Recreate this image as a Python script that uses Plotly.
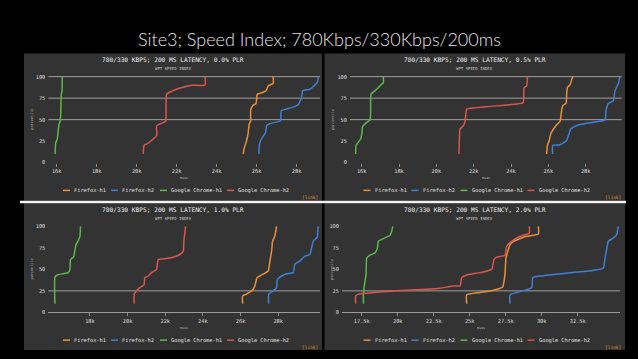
import plotly.graph_objects as go

W, H = 638, 359

series_names = ["Firefox-h1", "Firefox-h2", "Google Chrome-h1", "Google Chrome-h2"]
series_colors = ["#e8913a", "#3f7fd4", "#5cb84a", "#d9574f"]

slide_title = "Site3; Speed Index; 780Kbps/330Kbps/200ms"
panel_titles = [
    "780/330 KBPS; 200 MS LATENCY, 0.0% PLR",
    "780/330 KBPS; 200 MS LATENCY, 0.5% PLR",
    "780/330 KBPS; 200 MS LATENCY, 1.0% PLR",
    "780/330 KBPS; 200 MS LATENCY, 2.0% PLR",
]
panel_subtitle = "WPT SPEED INDEX"
x_title = "msec"
y_title = "percentile"
link_text = "[link]"

y_tickvals = [0, 25, 50, 75, 100]
y_ticktext = ["0", "25", "50", "75", "100"]

# ---- top-left: 0.0% PLR ----
tl_ff1_x = [25330, 25370, 25500, 25570, 25630, 25700, 25700, 25800, 25970, 26030, 26200, 26470, 26580, 26830, 26830]
tl_ff1_y = [10, 16, 25.8, 33.5, 45, 48.1, 60.4, 66.2, 68.8, 79.6, 80.8, 83.5, 89.2, 92.3, 100]
tl_ff2_x = [26120, 26130, 26200, 26450, 26500, 26630, 27080, 27200, 27230, 27500, 27920, 28080, 28250, 28300, 28670, 28920, 29050, 29080]
tl_ff2_y = [10, 20, 25.8, 35.4, 43, 45, 47.7, 48.8, 60.4, 62.3, 65.4, 67.3, 75.8, 83.5, 85.4, 90.4, 94.2, 100]
tl_gc1_x = [15920, 15950, 16030, 16070, 16120, 16170, 16200, 16230, 16270, 16280]
tl_gc1_y = [10, 22.7, 27.7, 36.5, 45, 48.1, 56.5, 79.6, 83.5, 100]
tl_gc2_x = [20330, 20370, 20580, 21000, 21000, 21250, 21450, 21500, 22000, 22750, 23420, 23420]
tl_gc2_y = [10, 20, 22.7, 31.5, 43, 45.8, 48.1, 79.6, 85.4, 90, 90, 100]

# ---- top-right: 0.5% PLR ----
tr_ff1_x = [25910, 25950, 26050, 26130, 26410, 26630, 26710, 26770, 26950, 26980, 27020, 27160, 27300]
tr_ff1_y = [10, 20, 25.8, 33.5, 43.1, 48.1, 60.4, 66.2, 68.8, 79.6, 87.3, 90.4, 100]
tr_ff2_x = [26230, 26230, 26630, 26980, 27200, 27520, 28050, 28770, 29040, 29090, 29210, 29480, 29570, 29750, 29840]
tr_ff2_y = [10, 20, 20.8, 25.8, 39.2, 43.1, 45.8, 48.1, 49.6, 60.4, 68.8, 71.9, 83.5, 91.9, 100]
tr_gc1_x = [15680, 15700, 15820, 15950, 16020, 16050, 16270, 16450, 16480, 16500, 16710, 17070, 17160, 17160]
tr_gc1_y = [10, 20, 23.8, 27.7, 35.4, 41.9, 46.9, 49.6, 60.4, 79.6, 83.5, 91.2, 93.1, 100]
tr_gc2_x = [21210, 21230, 21270, 21450, 21540, 21590, 21630, 22700, 24300, 24660, 24700, 24840, 24880]
tr_gc2_y = [10, 25.8, 39.2, 43.1, 48.1, 58.5, 62.3, 65, 68.1, 70, 87.3, 89.2, 100]

# ---- bottom-left: 1.0% PLR ----
bl_ff1_x = [26110, 26110, 26320, 26670, 26760, 26880, 27120, 27470, 27560, 27650, 27700, 27820, 27910]
bl_ff1_y = [10, 19.2, 21.2, 26.9, 30.8, 40.4, 43.5, 48.1, 59.6, 71.2, 82.7, 88.5, 100]
bl_ff2_x = [27490, 27500, 27730, 27910, 27960, 28180, 28440, 28800, 28880, 29150, 29420, 29680, 29770, 29860, 30070, 30120]
bl_ff2_y = [10, 21.2, 25, 28.8, 38.5, 42.3, 45, 46.2, 55.8, 59.6, 65.4, 67.3, 75, 82.7, 87.3, 100]
bl_gc1_x = [16140, 16140, 16270, 16580, 16850, 16940, 16970, 17120, 17150, 17260, 17380, 17470, 17500]
bl_gc1_y = [10, 40.4, 43.5, 45, 46.2, 50, 61.5, 64.2, 65.4, 78.8, 83.5, 88.5, 100]
bl_gc2_x = [20350, 20350, 20480, 20650, 20870, 20920, 21100, 21270, 21540, 21630, 22070, 22420, 22780, 22960, 22990, 23080]
bl_gc2_y = [10, 21.2, 25, 28.8, 31.9, 40.4, 42.3, 46.2, 50, 61.5, 62.7, 64.2, 67.3, 71.2, 82.7, 100]

# ---- bottom-right: 2.0% PLR ----
br_ff1_x = [24790, 24790, 25720, 26640, 27290, 27450, 27520, 27620, 27800, 28030, 28960, 29770, 29770]
br_ff1_y = [10, 20.4, 23.1, 25.8, 29.6, 44.2, 63.5, 69.2, 78.8, 82.7, 88.5, 91.2, 100]
br_ff2_x = [27800, 27800, 28260, 29310, 29380, 29880, 31970, 33590, 34280, 34400, 34470, 34630, 34980, 35210, 35320]
br_ff2_y = [10, 20.4, 23.1, 28.8, 40.4, 42.3, 46.2, 48.8, 51.2, 63.5, 69.2, 82.7, 86.5, 90.4, 100]
br_gc1_x = [17620, 17620, 17660, 17800, 17850, 18080, 18430, 18590, 18660, 19000, 19470, 19580, 19650]
br_gc1_y = [10, 21.2, 28.8, 44.2, 63.5, 66.5, 69.2, 75, 82.7, 85.8, 89.6, 94.2, 100]
br_gc2_x = [17080, 17080, 17270, 17850, 19240, 20630, 22010, 22940, 23870, 24330, 24440, 24790, 25720, 26530, 26690, 26880, 27450, 27570, 27850, 28500, 29140, 29140]
br_gc2_y = [10, 19.2, 21.2, 22.3, 24.2, 25.8, 26.9, 28.1, 30.8, 30.8, 40.4, 43.5, 46.2, 50, 61.5, 64.2, 66.5, 76.9, 81.9, 88.5, 92.3, 100]

tl_xticks = [16000, 18000, 20000, 22000, 24000, 26000, 28000]
tl_xlabels = ["16k", "18k", "20k", "22k", "24k", "26k", "28k"]
tr_xticks = [16000, 18000, 20000, 22000, 24000, 26000, 28000]
tr_xlabels = ["16k", "18k", "20k", "22k", "24k", "26k", "28k"]
bl_xticks = [18000, 20000, 22000, 24000, 26000, 28000]
bl_xlabels = ["18k", "20k", "22k", "24k", "26k", "28k"]
br_xticks = [17500, 20000, 22500, 25000, 27500, 30000, 32500]
br_xlabels = ["17.5k", "20k", "22.5k", "25k", "27.5k", "30k", "32.5k"]

tl_grid = [50, 75, 100]
tr_grid = [50, 75, 100]
bl_grid = [25]
br_grid = [25]

panels = [
    dict(series=[(tl_ff1_x, tl_ff1_y), (tl_ff2_x, tl_ff2_y), (tl_gc1_x, tl_gc1_y), (tl_gc2_x, tl_gc2_y)],
         xt=tl_xticks, xl=tl_xlabels, grid=tl_grid, title=panel_titles[0],
         box=(24, 54, 322, 202.5), plot=(48.3, 320), ytop=77.3, ybot=164, xr=(15580, 29170), axisline=False),
    dict(series=[(tr_ff1_x, tr_ff1_y), (tr_ff2_x, tr_ff2_y), (tr_gc1_x, tr_gc1_y), (tr_gc2_x, tr_gc2_y)],
         xt=tr_xticks, xl=tr_xlabels, grid=tr_grid, title=panel_titles[1],
         box=(324.5, 54, 625, 202.5), plot=(350, 621.7), ytop=77.3, ybot=164, xr=(15375, 29930), axisline=False),
    dict(series=[(bl_ff1_x, bl_ff1_y), (bl_ff2_x, bl_ff2_y), (bl_gc1_x, bl_gc1_y), (bl_gc2_x, bl_gc2_y)],
         xt=bl_xticks, xl=bl_xlabels, grid=bl_grid, title=panel_titles[2],
         box=(24, 205, 322, 353), plot=(48.3, 320), ytop=228.3, ybot=315, xr=(15790, 30220), axisline=True),
    dict(series=[(br_ff1_x, br_ff1_y), (br_ff2_x, br_ff2_y), (br_gc1_x, br_gc1_y), (br_gc2_x, br_gc2_y)],
         xt=br_xticks, xl=br_xlabels, grid=br_grid, title=panel_titles[3],
         box=(324.5, 205, 625, 353), plot=(342, 620), ytop=228.3, ybot=315, xr=(16130, 35440), axisline=True),
]


def fx(px):
    return px / W


def fy(py):
    return 1 - py / H


MONO = "DejaVu Sans Mono"
fig = go.Figure()
shapes = []
annotations = []

# slide title
annotations.append(dict(text=slide_title, x=fx(320), y=fy(39), xref="paper", yref="paper",
                        xanchor="center", yanchor="middle", showarrow=False,
                        font=dict(family="Lato", size=18, color="#e6e6e6", weight=300)))

# white separator line
shapes.append(dict(type="rect", xref="paper", yref="paper", x0=fx(20), x1=fx(626), y0=fy(205), y1=fy(202.5),
                   fillcolor="#f2f2f2", line=dict(width=0), layer="below"))

legend_offsets = [48, 96, 145, 212]

for i, p in enumerate(panels):
    s = "" if i == 0 else str(i + 1)
    bx0, by0, bx1, by1 = p["box"]
    shapes.insert(0, dict(type="rect", xref="paper", yref="paper", x0=fx(bx0), x1=fx(bx1), y0=fy(by1), y1=fy(by0),
                          fillcolor="#333333", line=dict(width=0), layer="below"))
    ppu = (p["ybot"] - p["ytop"]) / 100.0
    ydom_top = p["ytop"] - 4 * ppu
    for j, (xs, ys) in enumerate(p["series"]):
        fig.add_trace(go.Scatter(x=xs, y=ys, mode="lines", name=series_names[j],
                                 line=dict(color=series_colors[j], width=1.5, shape="spline", smoothing=0.4),
                                 xaxis="x" + s, yaxis="y" + s, showlegend=False, hoverinfo="skip"))
    fig.layout["xaxis" + s] = dict(
        domain=[fx(p["plot"][0]), fx(p["plot"][1])], range=list(p["xr"]), anchor="y" + s,
        tickvals=p["xt"], ticktext=p["xl"], ticks="outside", ticklen=3, tickcolor="#8a8a8a", tickwidth=1,
        showgrid=False, zeroline=False, showline=p["axisline"], linecolor="#9a9a9a", linewidth=1,
        tickfont=dict(family=MONO, size=5.3, color="#dddddd"), fixedrange=True)
    fig.layout["yaxis" + s] = dict(
        domain=[fy(p["ybot"]), fy(ydom_top)], range=[0, 104], anchor="x" + s,
        tickvals=y_tickvals, ticktext=y_ticktext, ticks="", showgrid=False, zeroline=False, showline=False,
        tickfont=dict(family=MONO, size=5.3, color="#dddddd"), ticklabelstandoff=2, fixedrange=True)
    for lvl in p["grid"]:
        shapes.append(dict(type="line", xref="x" + s + " domain", yref="y" + s, x0=0, x1=1, y0=lvl, y1=lvl,
                           line=dict(color="#a0a0a0", width=1), layer="below"))
    cx = (bx0 + bx1) / 2
    annotations.append(dict(text=p["title"], x=fx(cx), y=fy(by0 + 6.5), xref="paper", yref="paper",
                            xanchor="center", yanchor="middle", showarrow=False,
                            font=dict(family=MONO, size=6.2, color="#f0f0f0")))
    annotations.append(dict(text=panel_subtitle, x=fx(cx), y=fy(by0 + 15), xref="paper", yref="paper",
                            xanchor="center", yanchor="middle", showarrow=False,
                            font=dict(family=MONO, size=4, color="#cccccc")))
    pc = (p["plot"][0] + p["plot"][1]) / 2
    annotations.append(dict(text=x_title, x=fx(pc), y=fy(p["ybot"] + 16), xref="paper", yref="paper",
                            xanchor="center", yanchor="middle", showarrow=False,
                            font=dict(family=MONO, size=3.5, color="#aaaaaa")))
    annotations.append(dict(text=y_title, x=fx(bx0 + 8), y=fy((p["ytop"] + p["ybot"]) / 2), xref="paper",
                            yref="paper", xanchor="center", yanchor="middle", showarrow=False, textangle=-90,
                            font=dict(family=MONO, size=3.5, color="#aaaaaa")))
    ly = by0 + 138
    for j, name in enumerate(series_names):
        tx = bx0 + legend_offsets[j]
        shapes.append(dict(type="line", xref="paper", yref="paper", x0=fx(tx - 9), x1=fx(tx - 2),
                           y0=fy(ly), y1=fy(ly), line=dict(color=series_colors[j], width=1.5)))
        annotations.append(dict(text=name, x=fx(tx), y=fy(ly), xref="paper", yref="paper",
                                xanchor="left", yanchor="middle", showarrow=False,
                                font=dict(family=MONO, size=5.3, color="#e0e0e0")))
    annotations.append(dict(text=link_text, x=fx(bx1 - 2), y=fy(by1 - 3), xref="paper", yref="paper",
                            xanchor="right", yanchor="middle", showarrow=False,
                            font=dict(family=MONO, size=4.5, color="#e0982e")))

fig.update_layout(width=W, height=H, margin=dict(l=0, r=0, t=0, b=0),
                  paper_bgcolor="#000000", plot_bgcolor="rgba(0,0,0,0)",
                  shapes=shapes, annotations=annotations, showlegend=False)

page_css = "document.body.style.margin='0';document.body.style.padding='0';document.body.style.background='#000';"
fig.write_html("out.html", post_script=page_css, config={"displayModeBar": False})
